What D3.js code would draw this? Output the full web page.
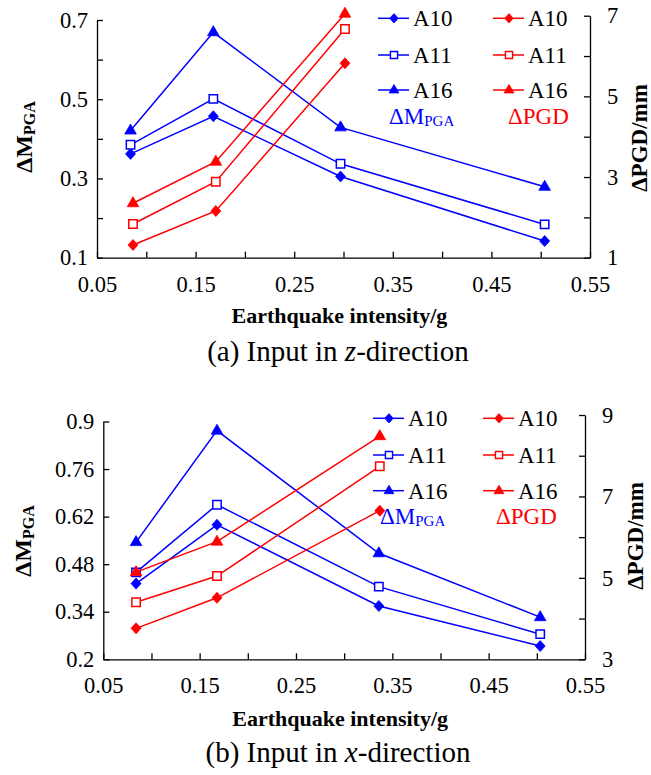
<!DOCTYPE html>
<html><head><meta charset="utf-8">
<script src="https://cdn.jsdelivr.net/npm/d3@7"></script>
</head><body style="margin:0">
<svg id="chart" width="651" height="775">
<text x="338" y="361" text-anchor="middle" font-size="29" font-family="Liberation Serif">(a) Input in <tspan font-style="italic">z</tspan>-direction</text>
<text x="338" y="762" text-anchor="middle" font-size="29" font-family="Liberation Serif">(b) Input in <tspan font-style="italic">x</tspan>-direction</text>
</svg>
<script>
// ---- data ----
// (a) input in z-direction
const zIntensityM = [0.084, 0.168, 0.297, 0.504];
const zIntensityPGD = [0.0865, 0.1705, 0.3015];
const zA10_M = [0.362, 0.457, 0.305, 0.142];
const zA11_M = [0.385, 0.501, 0.337, 0.184];
const zA16_M = [0.421, 0.669, 0.429, 0.279];
const zA10_PGD = [1.315, 2.158, 5.82];
const zA11_PGD = [1.835, 2.884, 6.67];
const zA16_PGD = [2.35, 3.38, 7.05];

// (b) input in x-direction
const xIntensityM = [0.084, 0.168, 0.336, 0.5035];
const xIntensityPGD = [0.084, 0.168, 0.337];
const xA10_M = [0.423, 0.596, 0.357, 0.239];
const xA11_M = [0.456, 0.655, 0.414, 0.274];
const xA16_M = [0.545, 0.873, 0.512, 0.324];
const xA10_PGD = [3.76, 4.51, 6.65];
const xA11_PGD = [4.40, 5.045, 7.74];
const xA16_PGD = [5.14, 5.89, 8.48];

const seriesNames = ['A10', 'A11', 'A16'];
const xTicks = [0.05, 0.1, 0.15, 0.2, 0.25, 0.3, 0.35, 0.4, 0.45, 0.5, 0.55];
const xTickLabels = ['0.05', '0.15', '0.25', '0.35', '0.45', '0.55'];
const zLeftTicks = [0.1, 0.2, 0.3, 0.4, 0.5, 0.6, 0.7];
const zLeftLabels = ['0.1', '0.3', '0.5', '0.7'];
const zRightTicks = [1, 2, 3, 4, 5, 6, 7];
const zRightLabels = ['1', '3', '5', '7'];
const xLeftTicks = [0.2, 0.34, 0.48, 0.62, 0.76, 0.9];
const xLeftLabels = ['0.2', '0.34', '0.48', '0.62', '0.76', '0.9'];
const xRightTicks = [3, 4, 5, 6, 7, 8, 9];
const xRightLabels = ['3', '5', '7', '9'];

const BLUE = '#0000ff', RED = '#ff0000';
const FONT = 'Liberation Serif';

const svg = d3.select('#chart');

// marker shapes (diamond, hollow square, triangle)
function markerPath(kind, k = 1) {
  if (kind === 'A10') return `M0,${-5.5 * k}L${5 * k},0L0,${5.5 * k}L${-5 * k},0Z`;
  if (kind === 'A11') return `M${-4.2 * k},${-4.2 * k}H${4.2 * k}V${4.2 * k}H${-4.2 * k}Z`;
  return `M0,${-6.5 * k}L${5.8 * k},${3.5 * k}L${-5.8 * k},${3.5 * k}Z`;
}

function drawPanel(p) {
  const g = svg.append('g');
  const x = d3.scaleLinear().domain([0.05, 0.55]).range([p.left, p.right]);
  const yL = d3.scaleLinear().domain(p.leftDomain).range([p.bottom, p.leftTop]);
  const yR = d3.scaleLinear().domain(p.rightDomain).range([p.bottom, p.rightTop]);

  const fmt = labels => d => {
    const s = String(+d.toFixed(2));
    return labels.includes(s) ? s : '';
  };

  // axes
  const xAxis = g.append('g')
    .attr('transform', `translate(0,${p.bottom})`)
    .call(d3.axisBottom(x).tickValues(xTicks).tickFormat(fmt(xTickLabels))
      .tickSizeInner(-6).tickSizeOuter(0).tickPadding(18));
  const leftAxis = g.append('g')
    .attr('transform', `translate(${p.left},0)`)
    .call(d3.axisLeft(yL).tickValues(p.leftTicks).tickFormat(fmt(p.leftLabels))
      .tickSizeInner(-6).tickSizeOuter(0).tickPadding(9));
  const rightAxis = g.append('g')
    .attr('transform', `translate(${p.right},0)`)
    .call(d3.axisRight(yR).tickValues(p.rightTicks).tickFormat(fmt(p.rightLabels))
      .tickSizeInner(-6).tickSizeOuter(0).tickPadding(17));

  [xAxis, leftAxis, rightAxis].forEach(a => {
    a.attr('font-family', FONT).attr('font-size', 22.5);
    a.selectAll('path, line').attr('stroke', '#000').attr('stroke-width', 1.3);
    a.selectAll('text').attr('fill', '#000');
  });

  // series
  const blue = [p.mA10, p.mA11, p.mA16];
  const red = [p.pA10, p.pA11, p.pA16];
  const line = (xs, sc) => d3.line().x((d, i) => x(xs[i])).y(d => sc(d));

  function drawSeries(vals, xs, sc, color, name) {
    g.append('path').datum(vals)
      .attr('d', line(xs, sc))
      .attr('fill', 'none').attr('stroke', color).attr('stroke-width', 1.5);
    g.selectAll(null).data(vals).join('path')
      .attr('transform', (d, i) => `translate(${x(xs[i])},${sc(d)})`)
      .attr('d', markerPath(name))
      .attr('fill', name === 'A11' ? '#fff' : color)
      .attr('stroke', color).attr('stroke-width', name === 'A11' ? 1.5 : 0.8);
  }
  blue.forEach((v, i) => drawSeries(v, p.xM, yL, BLUE, seriesNames[i]));
  red.forEach((v, i) => drawSeries(v, p.xP, yR, RED, seriesNames[i]));

  // legend
  const leg = g.append('g');
  seriesNames.forEach((name, i) => {
    const y = p.legRows[i];
    [[p.legBlueX, BLUE], [p.legRedX, RED]].forEach(([lx, color]) => {
      leg.append('line').attr('x1', lx).attr('x2', lx + 31).attr('y1', y).attr('y2', y)
        .attr('stroke', color).attr('stroke-width', 1.5);
      leg.append('path').attr('transform', `translate(${lx + 16},${y})`)
        .attr('d', markerPath(name, 0.85))
        .attr('fill', name === 'A11' ? '#fff' : color)
        .attr('stroke', color).attr('stroke-width', name === 'A11' ? 1.4 : 0.8);
      leg.append('text').attr('x', lx + 35).attr('y', y + 8)
        .attr('font-size', 23).text(name);
    });
  });
  const lm = leg.append('text').attr('x', p.legMx).attr('y', p.legLabelY)
    .attr('font-size', 23).attr('fill', BLUE);
  lm.append('tspan').text('\u0394M');
  lm.append('tspan').attr('font-size', 15).attr('dy', 2).text('PGA');
  leg.append('text').attr('x', p.legPx).attr('y', p.legLabelY)
    .attr('font-size', 23).attr('fill', RED).text('\u0394PGD');

  // axis titles
  g.append('text').attr('x', (p.left + p.right) / 2 - 4).attr('y', p.xTitleY)
    .attr('text-anchor', 'middle').attr('font-size', 22).attr('font-weight', 'bold')
    .text('Earthquake intensity/g');
  const lt = g.append('text')
    .attr('transform', `translate(${p.leftTitleX},${p.leftTitleCy}) rotate(-90)`)
    .attr('text-anchor', 'middle').attr('font-weight', 'bold').attr('font-size', 24);
  lt.append('tspan').text('\u0394M');
  lt.append('tspan').attr('font-size', 16).attr('dy', 3).text('PGA');
  g.append('text')
    .attr('transform', `translate(${p.rightTitleX},${p.rightTitleCy}) rotate(-90)`)
    .attr('text-anchor', 'middle').attr('font-weight', 'bold').attr('font-size', 23)
    .text('\u0394PGD/mm');
}

drawPanel({
  left: 97, right: 590, bottom: 257.7, leftTop: 20, rightTop: 15.7,
  leftDomain: [0.1, 0.7], rightDomain: [1, 7],
  leftTicks: zLeftTicks, leftLabels: zLeftLabels,
  rightTicks: zRightTicks, rightLabels: zRightLabels,
  xM: zIntensityM, xP: zIntensityPGD,
  mA10: zA10_M, mA11: zA11_M, mA16: zA16_M,
  pA10: zA10_PGD, pA11: zA11_PGD, pA16: zA16_PGD,
  legRows: [18.3, 55, 90], legBlueX: 378, legRedX: 493,
  legMx: 389, legPx: 508, legLabelY: 124,
  xTitleY: 323, leftTitleX: 32, leftTitleCy: 137,
  rightTitleX: 647, rightTitleCy: 138
});

drawPanel({
  left: 103.3, right: 585, bottom: 659.3, leftTop: 421.5, rightTop: 415,
  leftDomain: [0.2, 0.9], rightDomain: [3, 9],
  leftTicks: xLeftTicks, leftLabels: xLeftLabels,
  rightTicks: xRightTicks, rightLabels: xRightLabels,
  xM: xIntensityM, xP: xIntensityPGD,
  mA10: xA10_M, mA11: xA11_M, mA16: xA16_M,
  pA10: xA10_PGD, pA11: xA11_PGD, pA16: xA16_PGD,
  legRows: [418.3, 455, 490.7], legBlueX: 373, legRedX: 483,
  legMx: 380, legPx: 496, legLabelY: 524,
  xTitleY: 726, leftTitleX: 31, leftTitleCy: 541,
  rightTitleX: 643, rightTitleCy: 536
});

// serif face on every text node
svg.selectAll('text').attr('font-family', FONT);
</script>
</body></html>
